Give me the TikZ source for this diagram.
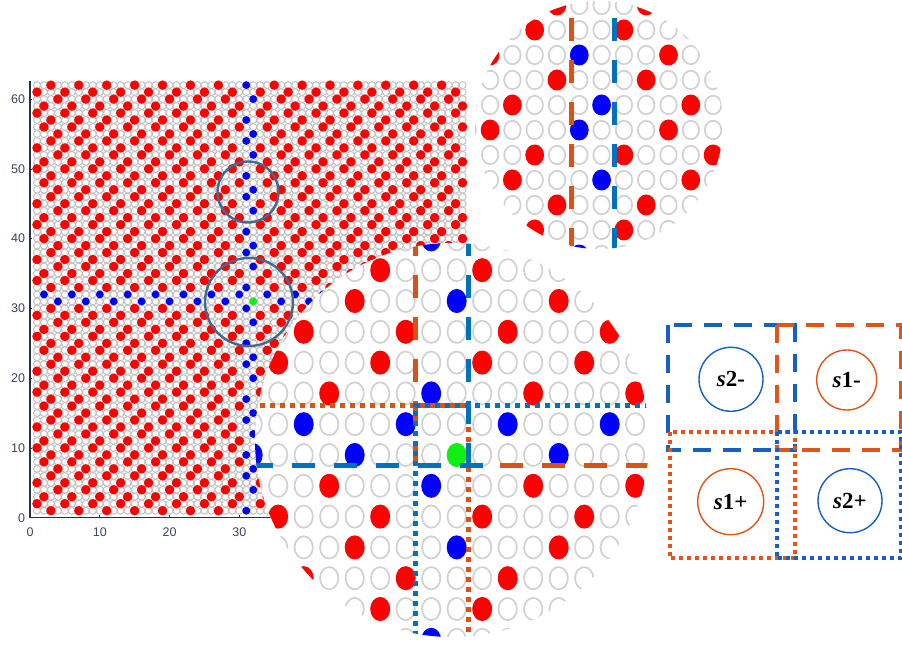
\documentclass[tikz,border=0pt]{standalone}
\usepackage{fontspec}
\setmainfont{Liberation Serif}
\setsansfont{Liberation Sans}
\usepackage{xcolor}
\definecolor{vizRed}{HTML}{FF0000}
\definecolor{vizBlue}{HTML}{0000FF}
\definecolor{vizGreen}{HTML}{11EE11}
\definecolor{vizRing}{HTML}{C2C2C2}
\definecolor{vizLens}{HTML}{44698C}
\definecolor{vizAxis}{HTML}{3A4558}
\definecolor{wallOrange}{HTML}{D95319}
\definecolor{wallBlue}{HTML}{0072BD}
\definecolor{keyOrange}{HTML}{E0561A}
\definecolor{keyBlue}{HTML}{1560C0}

\tikzset{
  ring/.style={draw=vizRing, line width=1pt},
  bigring/.style={draw=vizRing!75, line width=1.7pt},
  lens/.style={circle, draw=vizLens, line width=2.4pt, inner sep=0pt},
  wallDash/.style={line width=5pt, dash pattern=on 23pt off 19pt},
  wallDot/.style={line width=5pt, dash pattern=on 5pt off 5pt},
  keyDash/.style={line width=4pt, dash pattern=on 18pt off 12pt},
  keyDot/.style={line width=4pt, dash pattern=on 4pt off 4pt},
  keyCircle/.style={circle, draw, line width=1.4pt, minimum size=64pt, inner sep=0pt,
    font=\fontsize{23}{26}\selectfont\bfseries},
  tickLabel/.style={font=\sffamily\fontsize{12.5}{14}\selectfont, text=vizAxis, inner sep=1pt}
}

% colour of a site: red, blue on the two walls, green at the centre
\newcommand{\dotcolor}[2]{%
  \def\dotcol{vizRed}%
  \ifnum#1=31 \def\dotcol{vizBlue}\fi
  \ifnum#1=32 \def\dotcol{vizBlue}\fi
  \ifnum#2=31 \def\dotcol{vizBlue}\fi
  \ifnum#2=32 \def\dotcol{vizBlue}\fi
  \ifnum#1=32 \ifnum#2=31 \def\dotcol{vizGreen}\fi\fi}

% filled sites in columns #1..#2, rows #3..#4, red radius #5, wall radius #6
\newcommand{\drawsites}[6]{%
  \foreach \Y in {#3,...,#4} {
    \pgfmathtruncatemacro{\rowd}{\Y+33}
    \pgfmathtruncatemacro{\rowpar}{mod(\rowd,2)}
    \pgfmathtruncatemacro{\rowoff}{mod((5*\rowpar-\rowd)/2+100,4)}
    \pgfmathtruncatemacro{\colstart}{#1+mod(32+\rowoff-#1+400,4)}
    \pgfmathtruncatemacro{\colnext}{\colstart+4}
    \foreach \X in {\colstart,\colnext,...,#2} {
      \dotcolor{\X}{\Y}
      \def\dotrad{#6}%
      \ifx\dotcol\redname \def\dotrad{#5}\fi
      \fill[fill=\dotcol] (\X,\Y) circle[radius=\dotrad];
    }
  }}
\def\redname{vizRed}

\begin{document}
\begin{tikzpicture}[x=1pt, y=-1pt]
  \fill[white] (0,0) rectangle (902,647);
  \useasboundingbox (0,0) rectangle (902,647);

  % full lattice
  \begin{scope}[shift={(30,517.7)}, x=6.977pt, y=6.977pt]
    \foreach \j in {1,...,62} {
      \draw[ring] \foreach \i in {1,...,62} {(\i,\j) circle[radius=0.5]};
    }
    \drawsites{1}{62}{1}{62}{0.68}{0.56}
    \draw[vizAxis!70!black, line width=1.2pt] (0,62.6) -- (0,0) -- (62.7,0);
    \foreach \t in {0,10,...,60} {
      \draw[vizAxis!70!black, line width=0.6pt] (0,\t) -- (0.35,\t);
      \node[tickLabel, anchor=east] (ylab\t) at (-0.55,\t) {\t};
    }
    \foreach \t in {0,10,20,30} {
      \draw[vizAxis!70!black, line width=0.6pt] (\t,0) -- (\t,0.35);
      \node[tickLabel] (xlab\t) at (\t,-2.1) {\t};
    }
  \end{scope}

  \node[lens, minimum size=61pt] (lensTop) at (248,192) {};
  \node[lens, minimum size=88pt] (lensMid) at (249,302) {};

  % magnified centre
  \begin{scope}
    \clip (452,440) circle[radius=197pt];
    \fill[white] (452,440) circle[radius=197pt];
    \begin{scope}[shift={(456.7-32*25.5,455+31*30.8)}, x=25.5pt, y=30.8pt]
      \foreach \j in {23,...,39} {
        \draw[bigring] \foreach \i in {23,...,41} {(\i,\j) circle[radius=0.36]};
      }
      \drawsites{23}{41}{23}{39}{0.39}{0.39}
    \end{scope}
    \draw[wallOrange, wallDash] (415.7,465.7) -- (415.7,220);
    \draw[wallOrange, wallDash] (500,465.7) -- (660,465.7);
    \draw[wallOrange, wallDot] (250,405.7) -- (468.3,405.7) -- (468.3,650);
    \draw[wallBlue, wallDash] (468.3,465.7) -- (468.3,220);
    \draw[wallBlue, wallDash] (483,465.7) -- (250,465.7);
    \draw[wallBlue, wallDot] (660,405.7) -- (415.7,405.7) -- (415.7,650);
  \end{scope}

  % magnified upper wall
  \begin{scope}
    \clip (599,125) circle[radius=124pt];
    \fill[white] (599,125) circle[radius=124pt];
    \begin{scope}[shift={(579.3-31*22.3,55+49*25)}, x=22.3pt, y=25pt]
      \foreach \j in {40,...,52} {
        \draw[bigring] \foreach \i in {25,...,39} {(\i,\j) circle[radius=0.37]};
      }
      \drawsites{25}{39}{40}{52}{0.42}{0.42}
    \end{scope}
    \draw[wallOrange, wallDash] (571.7,-24) -- (571.7,260);
    \draw[wallBlue, wallDash] (614,-24) -- (614,260);
  \end{scope}

  % key
  \draw[keyBlue, keyDash] (668.3,325) rectangle (795,450);
  \draw[keyOrange, keyDash] (776.7,325) rectangle (900.5,450);
  \draw[keyOrange, keyDot] (670,431.7) rectangle (795,558.3);
  \draw[keyBlue, keyDot] (776.7,431.7) rectangle (900.5,558.3);
  \node[keyCircle, draw=keyBlue] (s2minus) at (731,379.3) {\textit{s}2-};
  \node[keyCircle, draw=keyOrange, minimum size=60pt] (s1minus) at (846.7,380) {\textit{s}1-};
  \node[keyCircle, draw=keyOrange, minimum size=66pt] (s1plus) at (730.7,501.7) {\textit{s}1+};
  \node[keyCircle, draw=keyBlue] (s2plus) at (850,500.7) {\textit{s}2+};
\end{tikzpicture}
\end{document}
